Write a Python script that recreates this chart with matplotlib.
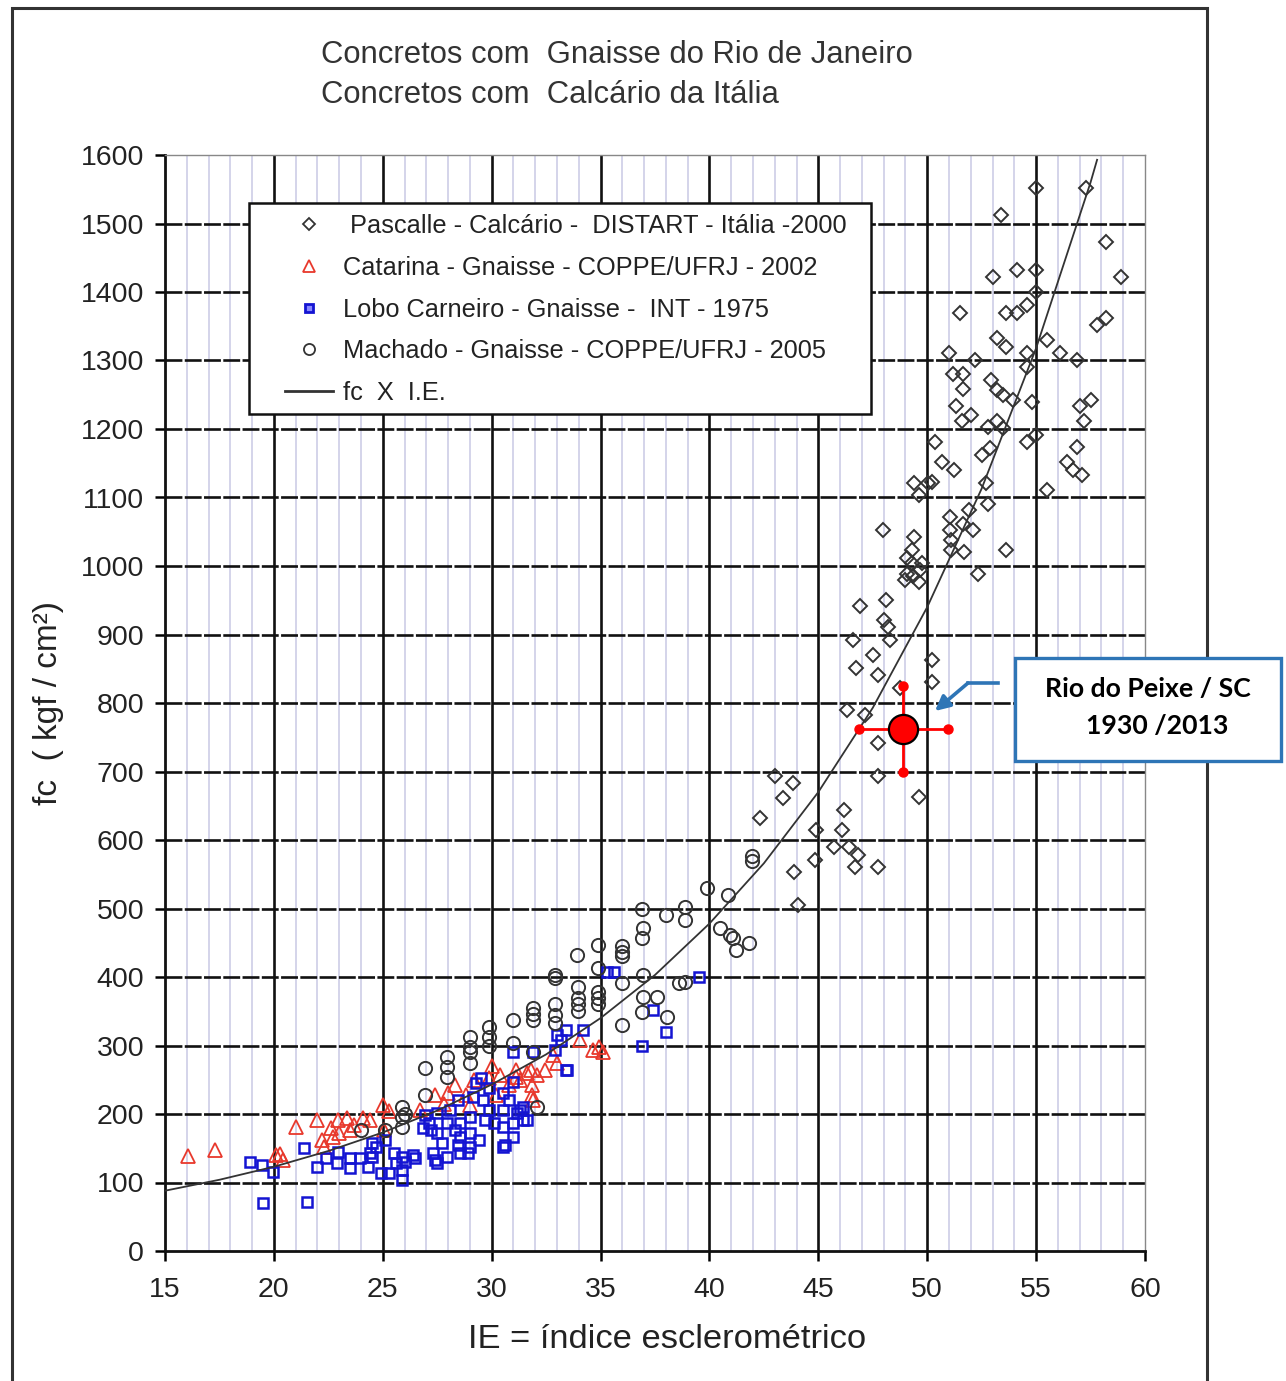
import numpy as np
import matplotlib.pyplot as plt
from matplotlib.patches import Rectangle
from matplotlib.lines import Line2D

# === FIGURE SIZE (pixels) ===
W, H = 1286, 1381
plt.rcParams['font.family'] = ['Liberation Sans', 'DejaVu Sans']

# === TEXT ===
TITLE_LINES = ["Concretos com  Gnaisse do Rio de Janeiro",
               "Concretos com  Calcário da Itália"]
X_LABEL = "IE = índice esclerométrico"
Y_LABEL = "fc  ( kgf / cm²)"
LEGEND_LABELS = [" Pascalle - Calcário -  DISTART - Itália -2000",
                 "Catarina - Gnaisse - COPPE/UFRJ - 2002",
                 "Lobo Carneiro - Gnaisse -  INT - 1975",
                 "Machado - Gnaisse - COPPE/UFRJ - 2005",
                 "fc  X  I.E."]
NOTE_LINES = ["Rio do Peixe / SC", "1930 /2013"]

X_TICKS = [15, 20, 25, 30, 35, 40, 45, 50, 55, 60]
Y_TICKS = [0, 100, 200, 300, 400, 500, 600, 700, 800, 900, 1000,
           1100, 1200, 1300, 1400, 1500, 1600]

# === DATA ===
# Pascalle - Calcario (diamonds)
PASC_X = [55.0, 57.3, 53.4, 58.2, 58.9, 53.0, 54.1, 55.0, 55.0, 51.5,
          53.6, 54.1, 54.6, 57.8, 58.2, 55.5, 53.2, 53.6, 51.0, 52.2,
          54.6, 54.6, 56.1, 56.9, 51.2, 51.65, 51.65, 52.95, 53.2, 53.5,
          53.95, 54.8, 51.3, 51.6, 52.0, 52.8, 53.2, 53.5, 57.0, 57.5,
          57.2, 50.35, 54.6, 55.0, 50.7, 51.25, 50.2, 52.5, 52.9, 52.7,
          56.4, 56.7, 57.1, 56.9, 55.5, 51.05, 51.05, 51.1, 51.65, 52.1,
          51.9, 51.1, 51.7, 52.8, 53.6, 52.35, 49.4, 50.05, 49.6, 47.98,
          49.4, 49.3, 49.05, 49.3, 49.05, 49.35, 49.65, 49.75, 49.0, 49.6,
          46.9, 48.1, 48.0, 48.2, 48.3, 46.6, 47.5, 46.75, 47.75, 50.2,
          50.2, 48.75, 46.3, 47.15, 47.75, 47.75, 49.6, 43.0, 43.85, 43.4,
          42.3, 46.2, 44.9, 46.1, 45.7, 46.4, 46.8, 46.7, 47.75, 44.85,
          43.9, 44.06]
PASC_Y = [1552, 1552, 1512, 1473, 1422, 1422, 1432, 1432, 1400, 1370,
          1369, 1369, 1381, 1352, 1362, 1330, 1333, 1320, 1311, 1301,
          1311, 1291, 1311, 1301, 1281, 1281, 1259, 1272, 1257, 1250,
          1242, 1240, 1233, 1211, 1220, 1203, 1211, 1201, 1233, 1242,
          1211, 1181, 1181, 1191, 1152, 1140, 1123, 1162, 1172, 1121,
          1152, 1140, 1133, 1174, 1111, 1072, 1053, 1038, 1062, 1053,
          1082, 1023, 1021, 1091, 1023, 989, 1121, 1121, 1104, 1053,
          1043, 1023, 1011, 1004, 989, 985, 994, 1004, 980, 977,
          941, 950, 921, 911, 892, 892, 870, 851, 841, 863,
          831, 822, 790, 783, 741, 693, 663, 693, 683, 661,
          632, 644, 615, 615, 590, 590, 578, 561, 561, 571,
          554, 505]

# Catarina - Gnaisse (triangles)
CAT_X = [16.05, 17.3, 20.1, 20.4, 20.3, 21.0, 22.0, 22.2, 22.6, 22.95,
         23.35, 23.5, 23.7, 24.1, 24.4, 22.3, 22.7, 23.0, 25.0, 25.05,
         25.3, 26.7, 27.4, 28.3, 28.8, 29.0, 29.2, 29.9, 30.2, 30.4,
         30.8, 31.1, 31.3, 31.6, 31.85, 31.85, 32.1, 32.45, 32.8, 34.05,
         34.65, 34.95, 35.1, 31.9, 30.0, 27.8, 28.0, 33.0, 31.8, 31.1]
CAT_Y = [139, 147, 140, 133, 142, 181, 191, 162, 180, 191,
         194, 177, 184, 194, 191, 152, 167, 172, 213, 177,
         205, 206, 228, 242, 228, 213, 250, 253, 228, 257,
         242, 264, 250, 260, 242, 228, 257, 264, 286, 308,
         293, 298, 290, 220, 270, 215, 230, 274, 264, 254]

# Lobo Carneiro - Gnaisse (squares)
LOBO_X = [18.9, 19.45, 19.95, 19.5, 21.5, 21.4, 22.0, 22.4, 22.9, 22.95,
          23.5, 23.5, 23.95, 24.4, 24.3, 24.5, 25.1, 24.7, 24.5, 25.5,
          25.6, 25.9, 26.4, 25.9, 25.9, 25.3, 24.9, 26.95, 27.1, 27.5,
          27.5, 27.3, 27.5, 27.7, 27.95, 28.1, 28.45, 28.55, 28.45, 28.55,
          29.0, 28.9, 29.0, 29.0, 29.15, 29.3, 29.5, 29.6, 29.9, 29.9,
          30.1, 30.5, 30.5, 30.5, 30.5, 31.0, 31.0, 31.15, 31.45, 31.45,
          31.0, 31.0, 31.9, 32.9, 33.2, 33.4, 33.4, 26.85, 27.95, 28.55,
          27.4, 30.6, 35.3, 35.6, 36.9, 37.4, 38.0, 39.5, 33.0, 34.2,
          33.45, 26.0, 26.5, 27.2, 28.3, 29.4, 29.7, 30.8, 31.3, 31.6]
LOBO_Y = [130, 126, 115, 70, 72, 150, 123, 136, 128, 145,
          121, 136, 136, 143, 123, 158, 162, 152, 137, 143,
          128, 137, 140, 118, 104, 114, 114, 199, 187, 201,
          172, 143, 128, 158, 187, 206, 220, 187, 155, 143,
          152, 143, 172, 196, 225, 245, 253, 220, 206, 238,
          187, 231, 206, 181, 152, 166, 187, 201, 210, 191,
          247, 291, 291, 293, 308, 322, 264, 180, 137, 166,
          133, 155, 407, 407, 300, 352, 320, 400, 315, 322,
          264, 130, 136, 177, 177, 162, 191, 220, 206, 191]

# Machado - Gnaisse (circles)
MACH_X = [24.0, 25.1, 25.9, 25.9, 25.9, 26.0, 26.95, 26.95, 27.95, 27.95,
          27.95, 29.0, 29.0, 29.0, 29.0, 29.9, 29.9, 29.9, 31.0, 31.0,
          31.9, 31.9, 31.9, 32.1, 32.9, 32.9, 32.9, 32.9, 32.9, 33.96,
          33.96, 33.96, 33.96, 34.9, 34.9, 34.9, 34.9, 34.9, 33.9, 36.0,
          36.0, 36.0, 36.0, 36.0, 36.9, 36.95, 37.6, 36.95, 38.6, 38.9,
          36.9, 36.95, 36.9, 38.0, 38.9, 38.9, 40.5, 40.95, 41.2, 39.9,
          40.85, 41.95, 41.95, 41.1, 38.05, 41.8, 31.9]
MACH_Y = [177, 177, 181, 195, 210, 200, 228, 267, 254, 268,
          283, 275, 290, 298, 313, 313, 327, 300, 304, 337,
          337, 346, 355, 210, 333, 345, 360, 398, 403, 350,
          360, 370, 385, 360, 370, 378, 413, 447, 432, 430,
          437, 445, 391, 330, 349, 371, 371, 403, 391, 393,
          457, 471, 500, 490, 502, 483, 471, 461, 439, 530,
          520, 576, 570, 457, 342, 450, 291]

# fc x IE curve
CURVE_X = [15, 17.5, 20, 22.5, 25, 27.5, 30, 32.5, 35, 37.5,
           40, 42.5, 45, 47.5, 50, 52.5, 55, 57.5, 57.8]
CURVE_Y = [88, 104, 123, 146, 173, 205, 243, 287, 340, 403,
           478, 566, 670, 793, 940, 1113, 1318, 1560, 1593]

# Rio do Peixe point with its spread
RIO_X = [48.9]
RIO_Y = [762]
RIO_XERR = [2.05]
RIO_YERR = [63]


def fpx(x, y):
    """image pixel (top-left origin) -> figure fraction"""
    return x / W, 1 - y / H


def apx(x, y):
    """image pixel -> axes fraction"""
    return (x - 165) / 980, (1251 - y) / 1096


fig = plt.figure(figsize=(W / 100, H / 100), dpi=100)
ax = fig.add_axes([165 / W, 1 - 1251 / H, 980 / W, 1096 / H])

# outer frame of the picture
fig.add_artist(Rectangle((12 / W, -0.02), (1207 - 12) / W, 1.02 - 8 / H,
                         transform=fig.transFigure, fill=False,
                         edgecolor='#333333', lw=2.2))

# titles
for i, line in enumerate(TITLE_LINES):
    fig.text(*fpx(321, 55 + 40 * i), line, ha='left', va='center',
             fontsize=22.3, color='#333333')

# grid
for v in range(16, 60):
    if v % 5:
        ax.axvline(v, color='#cdcde6', lw=1.2, zorder=0.5)
for v in X_TICKS[1:-1]:
    ax.axvline(v, color='#111111', lw=1.9, zorder=0.6)
for v in Y_TICKS[1:-1]:
    ax.axhline(v, color='#111111', lw=1.9, ls=(0, (6.4, 0.9)), zorder=0.6)

# data series
ax.plot(PASC_X, PASC_Y, 'D', ms=7.5, mfc='none', mec='#333333', mew=1.4, zorder=3)
ax.plot(CAT_X, CAT_Y, '^', ms=9.5, mfc='none', mec='#e8382c', mew=1.3, zorder=3)
ax.plot(LOBO_X, LOBO_Y, 's', ms=7, mfc='none', mec='#1414d2', mew=1.8, zorder=3)
ax.plot(MACH_X, MACH_Y, 'o', ms=9.5, mfc='none', mec='#333333', mew=1.4, zorder=3)
ax.plot(CURVE_X, CURVE_Y, '-', color='#333333', lw=1.3, zorder=4)

# Rio do Peixe point
ax.errorbar(RIO_X, RIO_Y, xerr=RIO_XERR, yerr=RIO_YERR, fmt='none',
            ecolor='red', elinewidth=2, capsize=0, zorder=5)
rx, ry, ex, ey = RIO_X[0], RIO_Y[0], RIO_XERR[0], RIO_YERR[0]
ax.plot([rx - ex, rx + ex, rx, rx], [ry, ry, ry - ey, ry + ey], 'o',
        color='red', ms=6.5, zorder=6)
ax.plot(RIO_X, RIO_Y, 'o', ms=21, mfc='red', mec='black', mew=1.6, zorder=7)

# axes styling
ax.set_xlim(15, 60)
ax.set_ylim(0, 1600)
ax.set_xticks(X_TICKS)
ax.set_yticks(Y_TICKS)
ax.tick_params(axis='both', direction='out', length=7, width=1.8,
               labelsize=20.5, labelcolor='#222222')
ax.tick_params(axis='x', pad=12)
ax.tick_params(axis='y', pad=8)
for side in ['left', 'bottom']:
    ax.spines[side].set_linewidth(2)
    ax.spines[side].set_color('#111111')
for side in ['top', 'right']:
    ax.spines[side].set_linewidth(1)
    ax.spines[side].set_color('#888888')
ax.set_xlabel(X_LABEL, fontsize=24.8, color='#222222', labelpad=15)
ax.xaxis.label.set_x(apx(667, 0)[0])
ax.set_ylabel(Y_LABEL, fontsize=24, color='#222222', labelpad=12)

# legend: own frame, frameless legend inside it
x0, y0 = apx(249, 414)
x1, y1 = apx(871, 203)
ax.add_patch(Rectangle((x0, y0), x1 - x0, y1 - y0, transform=ax.transAxes,
                       facecolor='white', edgecolor='#111111', lw=1.8, zorder=8))
handles = [
    Line2D([], [], ls='none', marker='D', ms=6, mfc='none', mec='#333333', mew=1.3),
    Line2D([], [], ls='none', marker='^', ms=9, mfc='none', mec='#e8382c', mew=1.3),
    Line2D([], [], ls='none', marker='s', ms=6, mfc='#8888ff', mec='#1414d2', mew=2),
    Line2D([], [], ls='none', marker='o', ms=8, mfc='none', mec='#333333', mew=1.3),
    Line2D([], [], color='#333333', lw=2),
]
leg = ax.legend(handles, LEGEND_LABELS, loc='upper left',
                bbox_to_anchor=apx(285, 214), borderaxespad=0, borderpad=0,
                fontsize=18.3, frameon=False, handlelength=1.9,
                handletextpad=0.4, labelspacing=0.7)
leg.set_zorder(9)
for t in leg.get_texts():
    t.set_color('#222222')

# note box with arrow
fig.add_artist(Rectangle(fpx(1015, 761), 266 / W, 103 / H,
                         transform=fig.transFigure, facecolor='white',
                         edgecolor='#2e75b6', lw=2.4, zorder=10))
fig.text(*fpx(1148, 689), NOTE_LINES[0], ha='center', va='center',
         fontsize=19.2, fontweight='bold', family=['Lato', 'DejaVu Sans'], zorder=11)
fig.text(*fpx(1157, 726), NOTE_LINES[1], ha='center', va='center',
         fontsize=19.2, fontweight='bold', family=['Lato', 'DejaVu Sans'], zorder=11)
fig.add_artist(Line2D([998 / W, 968 / W], [1 - 683 / H, 1 - 683 / H],
                      transform=fig.transFigure, color='#2e75b6', lw=2.6))
ax.annotate('', xy=fpx(935, 711), xytext=fpx(968, 683),
            xycoords='figure fraction', textcoords='figure fraction',
            arrowprops=dict(arrowstyle='-|>', color='#2e75b6', lw=2.6,
                            mutation_scale=22, shrinkA=0, shrinkB=0))

plt.savefig("out.png", dpi=100)
